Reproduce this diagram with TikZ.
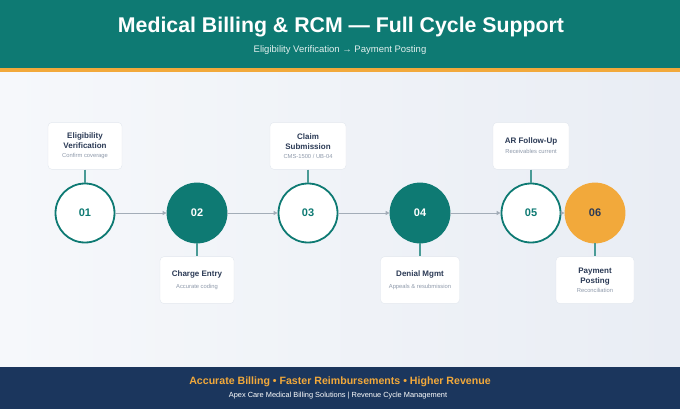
\documentclass[tikz,border=0pt]{standalone}
\usepackage{fontspec}
\setmainfont{Liberation Sans}
\usepackage{xcolor}
\usetikzlibrary{positioning,arrows.meta,calc}

\definecolor{rcmteal}{HTML}{0E7A73}
\definecolor{rcmorange}{HTML}{F2A93B}
\definecolor{rcmnavy}{HTML}{1B365D}
\definecolor{rcmtext}{HTML}{2B3A55}
\definecolor{rcmgray}{HTML}{8E99AA}
\definecolor{rcmline}{HTML}{A3ADB8}
\definecolor{rcmedge}{HTML}{E2E7EE}
\definecolor{rcmbgA}{HTML}{F6F8FB}
\definecolor{rcmbgB}{HTML}{E9EDF4}

\tikzset{
  stage/.style={circle, minimum size=59pt, inner sep=0pt, line width=1.8pt,
    font=\fontsize{11}{12}\selectfont\bfseries},
  openstage/.style={stage, draw=rcmteal, fill=white, text=rcmteal},
  fullstage/.style={stage, draw=rcmteal, fill=rcmteal, text=white},
  laststage/.style={stage, draw=rcmorange, fill=rcmorange, text=rcmtext},
  infobox/.style={draw=rcmedge, fill=white, rounded corners=4pt, minimum width=74pt,
    minimum height=47pt, inner sep=3pt, align=center, text=rcmtext,
    font=\fontsize{8}{10}\selectfont\bfseries},
  stem/.style={draw=rcmteal!75, line width=1.2pt},
  flow/.style={draw=rcmline, line width=1pt, -{Triangle[length=4pt,width=4pt]}}
}
\newcommand{\boxsub}[1]{\\[-0.5pt]{\fontsize{5.8}{7}\selectfont\mdseries\color{rcmgray}#1}}

\begin{document}
\begin{tikzpicture}[x=1pt,y=-1pt]
    % background and bands
    \shade[left color=rcmbgA, right color=rcmbgB] (0,0) rectangle (680,409);
    \fill[rcmteal] (0,0) rectangle (680,68);
    \fill[rcmorange] (0,68) rectangle (680,72);
    \fill[rcmnavy] (0,367) rectangle (680,409);
    \useasboundingbox (0,0) rectangle (680,409);

    \node[text=white, font=\fontsize{21.3}{25}\selectfont\bfseries] (title) at (341,27)
        {Medical Billing \& RCM — Full Cycle Support};
    \node[text=white!88!rcmteal, font=\fontsize{9.5}{11}\selectfont] (subtitle) at (340,50)
        {Eligibility Verification → Payment Posting};

    % stages
    \node[openstage] (c1) at (85,213) {01};
    \node[fullstage] (c2) at (197,213) {02};
    \node[openstage] (c3) at (308,213) {03};
    \node[fullstage] (c4) at (420,213) {04};
    \node[openstage] (c5) at (531,213) {05};
    \node[laststage] (c6) at (595,213) {06};

    \draw[flow] (c1) -- (c2);
    \draw[flow] (c2) -- (c3);
    \draw[flow] (c3) -- (c4);
    \draw[flow] (c4) -- (c5);
    \draw[flow] (c5) -- (c6);

    % info boxes
    \node[infobox, above=13pt of c1] (b1) {Eligibility\\Verification\boxsub{Confirm coverage}};
    \node[infobox, below=13pt of c2] (b2) {Charge Entry\\[2pt]{\fontsize{5.8}{7}\selectfont\mdseries\color{rcmgray}Accurate coding}};
    \node[infobox, above=13pt of c3, minimum width=76pt] (b3) {Claim\\Submission\boxsub{CMS-1500 / UB-04}};
    \node[infobox, below=13pt of c4, minimum width=79pt] (b4) {Denial Mgmt\\[2pt]{\fontsize{5.8}{7}\selectfont\mdseries\color{rcmgray}Appeals \& resubmission}};
    \node[infobox, above=13pt of c5, minimum width=76pt] (b5) {AR Follow-Up\\[0pt]{\fontsize{5.8}{7}\selectfont\mdseries\color{rcmgray}Receivables current}};
    \node[infobox, below=13pt of c6, minimum width=78pt] (b6) {Payment\\Posting\boxsub{Reconciliation}};

    \draw[stem] (b1) -- (c1);
    \draw[stem] (c2) -- (b2);
    \draw[stem] (b3) -- (c3);
    \draw[stem] (c4) -- (b4);
    \draw[stem] (b5) -- (c5);
    \draw[stem] (c6) -- (b6);

    % footer
    \node[text=rcmorange, font=\fontsize{10.6}{12}\selectfont\bfseries] (motto) at (340,382)
        {Accurate Billing • Faster Reimbursements • Higher Revenue};
    \node[text=white, font=\fontsize{7.4}{9}\selectfont] (company) at (338,396)
        {Apex Care Medical Billing Solutions | Revenue Cycle Management};
\end{tikzpicture}
\end{document}
